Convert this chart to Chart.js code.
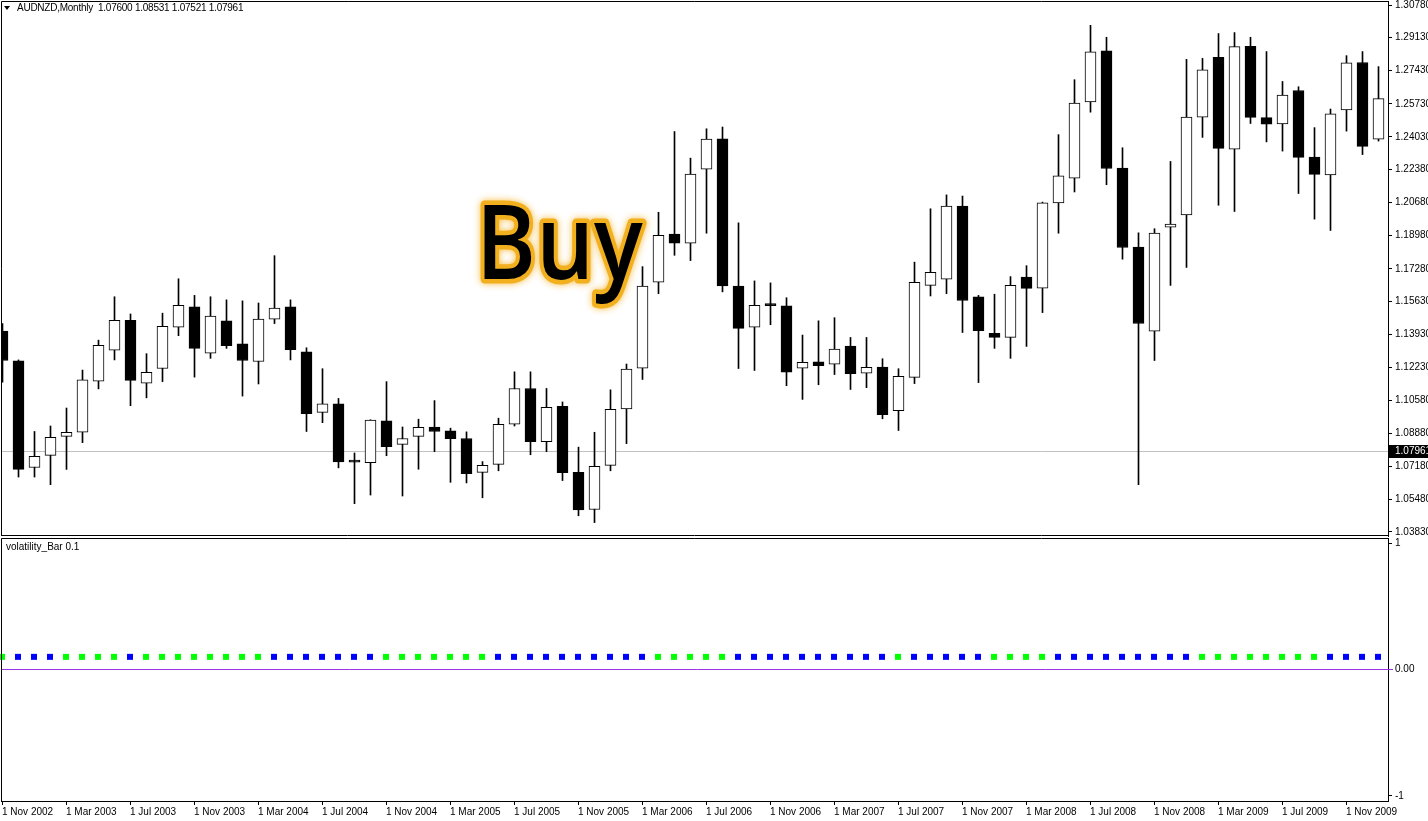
<!DOCTYPE html>
<html><head><meta charset="utf-8">
<script src="https://cdn.jsdelivr.net/npm/chart.js@4.4.1/dist/chart.umd.min.js"></script>
<style>
html,body{margin:0;padding:0;background:#fff;width:1428px;height:821px;overflow:hidden}
#wrap{position:relative;width:1428px;height:821px;background:#fff}
#c1{position:absolute;left:0;top:0}
#c2{position:absolute;left:0;top:537px}
.lbl{position:absolute;font-family:"Liberation Sans",Arial,sans-serif;font-size:10px;color:#000;white-space:pre;line-height:12px}
#tri{position:absolute;left:4px;top:6px;width:0;height:0;border-left:3.5px solid transparent;border-right:3.5px solid transparent;border-top:4px solid #000}
</style></head><body>
<div id="wrap">
<canvas id="c1" width="1428" height="537" style="width:1428px;height:537px"></canvas>
<canvas id="c2" width="1428" height="284" style="width:1428px;height:284px"></canvas>
<div id="tri"></div>
<div class="lbl" style="left:17px;top:2px;letter-spacing:-0.25px">AUDNZD,Monthly  1.07600 1.08531 1.07521 1.07961</div>
<div class="lbl" style="left:6px;top:541px">volatility_Bar 0.1</div>
</div>
<script>
// ---- data ----
const months = ['2002-11','2002-12',
'2003-01','2003-02','2003-03','2003-04','2003-05','2003-06','2003-07','2003-08','2003-09','2003-10','2003-11','2003-12',
'2004-01','2004-02','2004-03','2004-04','2004-05','2004-06','2004-07','2004-08','2004-09','2004-10','2004-11','2004-12',
'2005-01','2005-02','2005-03','2005-04','2005-05','2005-06','2005-07','2005-08','2005-09','2005-10','2005-11','2005-12',
'2006-01','2006-02','2006-03','2006-04','2006-05','2006-06','2006-07','2006-08','2006-09','2006-10','2006-11','2006-12',
'2007-01','2007-02','2007-03','2007-04','2007-05','2007-06','2007-07','2007-08','2007-09','2007-10','2007-11','2007-12',
'2008-01','2008-02','2008-03','2008-04','2008-05','2008-06','2008-07','2008-08','2008-09','2008-10','2008-11','2008-12',
'2009-01','2009-02','2009-03','2009-04','2009-05','2009-06','2009-07','2009-08','2009-09','2009-10','2009-11','2009-12',
'2010-01'];
const opens = [1.1410,1.1258,1.0713,1.0775,1.0872,1.0893,1.1154,1.1313,1.1466,1.1144,
1.1219,1.1431,1.1535,1.1297,1.1463,1.1345,1.1255,1.1472,1.1535,1.1304,
1.0995,1.1038,1.0743,1.0738,1.0951,1.0831,1.0872,1.0920,1.0900,1.0861,
1.0688,1.0729,1.0934,1.1117,1.0845,1.1025,1.0688,1.0498,1.0724,1.1013,
1.1221,1.1660,1.1907,1.1860,1.2239,1.2394,1.1641,1.1431,1.1543,1.1539,
1.1221,1.1253,1.1241,1.1334,1.1195,1.1226,1.1004,1.1174,1.1644,1.1676,
1.2050,1.1586,1.1399,1.1378,1.1687,1.1630,1.2066,1.2193,1.2583,1.2844,
1.2244,1.1840,1.1410,1.1942,1.2004,1.2505,1.2810,1.2341,1.2867,1.2502,
1.2470,1.2641,1.2300,1.2209,1.2542,1.2784,1.2392];
const highs = [1.1449,1.1263,1.0897,1.0925,1.1017,1.1211,1.1364,1.1586,1.1498,1.1295,
1.1502,1.1678,1.1593,1.1586,1.1570,1.1565,1.1554,1.1796,1.1570,1.1325,
1.1218,1.1066,1.0787,1.0957,1.1152,1.0920,1.0960,1.1055,1.0914,1.0895,
1.0743,1.0965,1.1202,1.1202,1.1117,1.1048,1.0817,1.0893,1.1110,1.1242,
1.1740,1.2018,1.2431,1.2295,1.2445,1.2454,1.1964,1.1667,1.1657,1.1581,
1.1390,1.1463,1.1479,1.1378,1.1378,1.1269,1.1218,1.1763,1.2036,1.2107,
1.2101,1.1593,1.1599,1.1689,1.1745,1.2070,1.2415,1.2696,1.2974,1.2913,
1.2348,1.1913,1.1934,1.2278,1.2800,1.2805,1.2932,1.2937,1.2913,1.2840,
1.2687,1.2660,1.2451,1.2546,1.2819,1.2840,1.2763];
const lows = [1.1149,1.0664,1.0664,1.0625,1.0703,1.0840,1.1115,1.1263,1.1029,1.1069,
1.1152,1.1387,1.1175,1.1271,1.1322,1.1078,1.1140,1.1449,1.1263,1.0897,
1.0942,1.0711,1.0528,1.0572,1.0773,1.0567,1.0704,1.0794,1.0637,1.0634,
1.0558,1.0696,1.0925,1.0778,1.0794,1.0646,1.0466,1.0431,1.0696,1.0835,
1.1163,1.1602,1.1798,1.1771,1.1911,1.1611,1.1219,1.1209,1.1443,1.1131,
1.1061,1.1136,1.1188,1.1112,1.1121,1.0962,1.0902,1.1142,1.1590,1.1602,
1.1403,1.1147,1.1322,1.1271,1.1332,1.1505,1.1911,1.2122,1.2530,1.2159,
1.1778,1.0625,1.1260,1.1644,1.1736,1.2401,1.2054,1.2022,1.2472,1.2378,
1.2331,1.2114,1.1983,1.1925,1.2433,1.2313,1.2382];
const closes = [1.1260,1.0703,1.0770,1.0867,1.0893,1.1161,1.1338,1.1466,1.1158,1.1200,
1.1435,1.1542,1.1322,1.1487,1.1336,1.1260,1.1472,1.1528,1.1316,1.0988,
1.1038,1.0741,1.0740,1.0955,1.0819,1.0861,1.0918,1.0897,1.0860,1.0681,
1.0724,1.0934,1.1117,1.0845,1.1020,1.0687,1.0496,1.0719,1.1010,1.1216,
1.1641,1.1900,1.1860,1.2214,1.2392,1.1641,1.1424,1.1542,1.1541,1.1200,
1.1251,1.1233,1.1318,1.1193,1.1225,1.0983,1.1179,1.1660,1.1711,1.2050,
1.1567,1.1413,1.1378,1.1644,1.1629,1.2066,1.2204,1.2577,1.2838,1.2242,
1.1838,1.1449,1.1911,1.1958,1.2505,1.2747,1.2345,1.2865,1.2503,1.2468,
1.2618,1.2299,1.2212,1.2521,1.2782,1.2355,1.2599];
const priceTicks = [1.30780,1.29130,1.27430,1.25730,1.24030,1.22380,1.20680,1.18980,1.17280,
1.15630,1.13930,1.12230,1.10580,1.08880,1.07180,1.05480,1.03830];
const bidPrice = 1.07961;
const xTickLabels = ['1 Nov 2002','1 Mar 2003','1 Jul 2003','1 Nov 2003','1 Mar 2004','1 Jul 2004',
'1 Nov 2004','1 Mar 2005','1 Jul 2005','1 Nov 2005','1 Mar 2006','1 Jul 2006','1 Nov 2006',
'1 Mar 2007','1 Jul 2007','1 Nov 2007','1 Mar 2008','1 Jul 2008','1 Nov 2008','1 Mar 2009',
'1 Jul 2009','1 Nov 2009'];
const volBar = [0.1,0.1,0.1,0.1,0.1,0.1,0.1,0.1,0.1,0.1,0.1,0.1,0.1,0.1,0.1,0.1,0.1,0.1,0.1,0.1,
0.1,0.1,0.1,0.1,0.1,0.1,0.1,0.1,0.1,0.1,0.1,0.1,0.1,0.1,0.1,0.1,0.1,0.1,0.1,0.1,
0.1,0.1,0.1,0.1,0.1,0.1,0.1,0.1,0.1,0.1,0.1,0.1,0.1,0.1,0.1,0.1,0.1,0.1,0.1,0.1,
0.1,0.1,0.1,0.1,0.1,0.1,0.1,0.1,0.1,0.1,0.1,0.1,0.1,0.1,0.1,0.1,0.1,0.1,0.1,0.1,
0.1,0.1,0.1,0.1,0.1,0.1,0.1];
const volColor = ['g','b','b','b','g','g','g','g','b','g','g','g','g','g','g','g','g','b','b','b',
'b','b','b','b','g','g','g','g','g','g','g','b','b','b','b','b','b','b','b','b',
'b','g','g','g','g','g','b','b','b','b','b','b','b','b','b','b','g','b','b','b',
'b','b','g','g','g','g','b','b','b','b','b','b','b','b','b','g','g','g','g','g',
'g','g','g','b','b','b','b'];
const zeroLevel = 0;
const buyText = 'Buy';

// ---- helpers ----
const FONT = {family:'"Liberation Sans", Arial, sans-serif', size:10};
const XMIN = -0.09375, XMAX = 86.59375;
const framePlugin = {id:'frame', afterDraw(chart){
  const a = chart.chartArea, ctx = chart.ctx;
  ctx.save(); ctx.strokeStyle='#000'; ctx.lineWidth=1;
  ctx.beginPath();
  ctx.moveTo(a.left+0.5, a.bottom); ctx.lineTo(a.left+0.5, a.top+0.5); ctx.lineTo(a.right, a.top+0.5);
  if (chart.options.frameBottom) { ctx.moveTo(a.left, a.bottom-0.5); ctx.lineTo(a.right, a.bottom-0.5); }
  ctx.stroke(); ctx.restore();
}};
const bidPlugin = {id:'bid',
  beforeDatasetsDraw(chart){
    const a = chart.chartArea, ctx = chart.ctx;
    const y = Math.floor(chart.scales.y.getPixelForValue(bidPrice)) + 0.5;
    ctx.save(); ctx.strokeStyle='#c0c0c0'; ctx.lineWidth=1;
    ctx.beginPath(); ctx.moveTo(a.left, y); ctx.lineTo(a.right, y); ctx.stroke(); ctx.restore();
  },
  afterDraw(chart){
    const a = chart.chartArea, ctx = chart.ctx;
    const y = Math.floor(chart.scales.y.getPixelForValue(bidPrice));
    ctx.save(); ctx.fillStyle='#000'; ctx.fillRect(a.right+1, y-6, 1428-a.right, 13);
    ctx.fillStyle='#fff'; ctx.font='10px "Liberation Sans", Arial, sans-serif';
    ctx.textBaseline='middle'; ctx.textAlign='left';
    ctx.fillText(bidPrice.toFixed(5), a.right+7, y+0.5);
    ctx.restore();
  }
};
const buyPlugin = {id:'buy', afterDraw(chart){
  const ctx = chart.ctx; ctx.save();
  ctx.font = '600 104px "Open Sans"';
  const m = ctx.measureText(buyText);
  const inkW = m.actualBoundingBoxLeft + m.actualBoundingBoxRight;
  const sx = 159 / inkW;
  ctx.translate(484, 279); ctx.scale(sx, 1); ctx.translate(m.actualBoundingBoxLeft, 0);
  ctx.lineJoin='round'; ctx.lineWidth=9; ctx.strokeStyle='#f2b01e';
  ctx.shadowColor='rgba(245,175,30,0.85)'; ctx.shadowBlur=7;
  ctx.strokeText(buyText,0,0);
  ctx.shadowBlur=0; ctx.shadowColor='transparent';
  ctx.fillStyle='#000'; ctx.fillText(buyText,0,0);
  ctx.restore();
}};
const levelPlugin = {id:'level', beforeDatasetsDraw(chart){
  const a = chart.chartArea, ctx = chart.ctx;
  const y = Math.floor(chart.scales.y.getPixelForValue(zeroLevel)) + 0.5;
  ctx.save(); ctx.strokeStyle='#9b30e6'; ctx.lineWidth=1;
  ctx.beginPath(); ctx.moveTo(a.left+1, y); ctx.lineTo(a.right+5, y); ctx.stroke(); ctx.restore();
}};

// ---- main candlestick chart ----
const wickData = months.map((m,i)=>({x:i, y:[lows[i], highs[i]]}));
const bodyData = months.map((m,i)=>({x:i, y:[opens[i], closes[i]]}));
const bodyFill = months.map((m,i)=> closes[i] >= opens[i] ? '#ffffff' : '#000000');

new Chart(document.getElementById('c1'), {
  type:'bar',
  data:{datasets:[
    {label:'wick', data:wickData, backgroundColor:'#000', borderWidth:0, barThickness:1, grouped:false, order:2},
    {label:'body', data:bodyData, backgroundColor:bodyFill, borderColor:'#000', borderWidth:1,
     borderSkipped:false, barThickness:11, minBarLength:2, grouped:false, order:1}
  ]},
  options:{
    responsive:false, animation:false, events:[],
    layout:{autoPadding:false, padding:{left:1, top:1, right:0, bottom:1}},
    plugins:{legend:{display:false}, tooltip:{enabled:false}},
    scales:{
      x:{type:'linear', min:XMIN, max:XMAX, display:false, offset:false},
      y:{position:'right', min:1.03625, max:1.30985,
        afterFit(s){ s.width = 40; s.paddingTop = 0; s.paddingBottom = 0; },
        afterBuildTicks(s){ s.ticks = priceTicks.map(v=>({value:v})); },
        ticks:{callback:(v)=>Number(v).toFixed(5), font:FONT, color:'#000', padding:3, autoSkip:false},
        grid:{drawOnChartArea:false, drawTicks:true, tickLength:4, color:'#000', lineWidth:1},
        border:{display:true, color:'#000', width:1}
      }
    },
    frameBottom:true
  },
  plugins:[framePlugin, bidPlugin, buyPlugin]
});

// ---- indicator chart ----
const volData = months.map((m,i)=>({x:i, y:volBar[i]}));
const volFill = volColor.map(c => c === 'g' ? '#00ff00' : '#0000ff');
new Chart(document.getElementById('c2'), {
  type:'scatter',
  data:{datasets:[
    {label:'volatility_Bar', data:volData, pointStyle:'rect', pointRadius:4.243, pointBorderWidth:0,
     pointBackgroundColor:volFill, showLine:false, clip:false}
  ]},
  options:{
    responsive:false, animation:false, events:[],
    layout:{autoPadding:false, padding:{left:1, top:1, right:0, bottom:0}},
    plugins:{legend:{display:false}, tooltip:{enabled:false}},
    scales:{
      x:{type:'linear', min:XMIN+0.03125, max:XMAX+0.03125, position:'bottom',
        afterFit(s){ s.height = 20; s.paddingLeft = 0; s.paddingRight = 0; },
        afterBuildTicks(s){ s.ticks = xTickLabels.map((t,k)=>({value:k*4})); },
        ticks:{callback:(v)=>xTickLabels[Math.round(v/4)], align:'start', autoSkip:false, maxRotation:0,
          font:FONT, color:'#000', padding:1},
        grid:{drawOnChartArea:false, drawTicks:true, tickLength:4, color:'#000'},
        border:{display:true, color:'#000'}
      },
      y:{position:'right', min:-1.04, max:1.04,
        afterFit(s){ s.width = 40; s.paddingTop = 0; s.paddingBottom = 0; },
        afterBuildTicks(s){ s.ticks = [1,0,-1].map(v=>({value:v})); },
        ticks:{callback:(v)=> v===0 ? '0.00' : String(v), font:FONT, color:'#000', padding:3, autoSkip:false},
        grid:{drawOnChartArea:false, drawTicks:true, tickLength:4, color:'#000'},
        border:{display:true, color:'#000'}
      }
    }
  },
  plugins:[framePlugin, levelPlugin]
});
</script>
</body></html>
